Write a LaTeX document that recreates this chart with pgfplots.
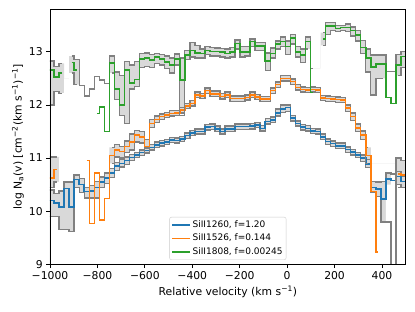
\documentclass[border=0pt]{standalone}
\usepackage{pgfplots}
\pgfplotsset{compat=1.18}
\usepackage{pgfplotstable}
\usepackage{fontspec}
\setmainfont{DejaVu Sans}
\definecolor{tabblue}{HTML}{1F77B4}
\definecolor{taborange}{HTML}{FF7F0E}
\definecolor{tabgreen}{HTML}{2CA02C}
\definecolor{edgegray}{HTML}{808080}
\definecolor{bandfill}{RGB}{217,217,217}
\definecolor{legframe}{HTML}{CCCCCC}
\begin{document}
\pgfplotstableread{
v c lo hi flo fhi
-1014.6 10.20 9.90 10.40 9.90 10.40
-993.4 10.20 9.90 10.40 9.90 10.40
-972.2 10.15 9.90 10.33 9.90 10.33
-951.0 10.08 9.65 10.38 9.65 10.38
-929.8 10.43 9.65 10.55 9.65 10.55
-908.6 10.08 9.62 10.55 9.62 10.55
-887.4 10.60 10.45 10.68 10.45 10.68
-866.2 10.50 10.35 10.62 10.35 10.62
-845.0 10.37 10.25 10.45 10.25 10.45
-823.8 10.38 10.25 10.48 10.25 10.48
-802.6 10.45 10.25 10.56 10.25 10.56
-781.4 10.55 10.45 10.64 10.45 10.64
-760.2 10.62 10.52 10.72 10.52 10.72
-739.0 10.72 10.63 10.80 10.63 10.80
-717.8 10.85 10.77 10.92 10.77 10.92
-696.6 10.90 10.83 10.97 10.83 10.97
-675.4 10.95 10.88 11.02 10.88 11.02
-654.2 11.01 10.95 11.07 10.95 11.07
-633.0 11.06 11.01 11.11 11.01 11.11
-611.8 11.10 11.05 11.15 11.05 11.15
-590.6 11.14 11.09 11.19 11.09 11.19
-569.4 11.20 11.15 11.25 11.15 11.25
-548.2 11.25 11.20 11.30 11.20 11.30
-527.0 11.28 11.23 11.33 11.23 11.33
-505.8 11.30 11.25 11.35 11.25 11.35
-484.6 11.34 11.29 11.39 11.29 11.39
-463.4 11.33 11.28 11.38 11.28 11.38
-442.2 11.36 11.31 11.41 11.31 11.41
-421.0 11.42 11.37 11.47 11.37 11.47
-399.8 11.47 11.42 11.52 11.42 11.52
-378.6 11.50 11.45 11.55 11.45 11.55
-357.4 11.50 11.45 11.55 11.45 11.55
-336.2 11.58 11.53 11.63 11.53 11.63
-315.0 11.59 11.54 11.64 11.54 11.64
-293.8 11.55 11.50 11.60 11.50 11.60
-272.6 11.50 11.45 11.55 11.45 11.55
-251.4 11.55 11.50 11.60 11.50 11.60
-230.2 11.55 11.50 11.60 11.50 11.60
-209.0 11.59 11.54 11.64 11.54 11.64
-187.8 11.59 11.54 11.64 11.54 11.64
-166.6 11.59 11.54 11.64 11.54 11.64
-145.4 11.60 11.55 11.65 11.55 11.65
-124.2 11.62 11.57 11.67 11.57 11.67
-103.0 11.56 11.51 11.61 11.51 11.61
-81.8 11.69 11.64 11.74 11.64 11.74
-60.6 11.72 11.67 11.77 11.67 11.77
-39.4 11.85 11.79 11.92 11.79 11.92
-18.2 11.92 11.86 12.00 11.86 12.00
3.0 11.95 11.88 12.00 11.88 12.00
24.2 11.75 11.70 11.80 11.70 11.80
45.4 11.65 11.60 11.70 11.60 11.70
66.6 11.58 11.53 11.63 11.53 11.63
87.8 11.56 11.51 11.61 11.51 11.61
109.0 11.51 11.46 11.56 11.46 11.56
130.2 11.50 11.45 11.55 11.45 11.55
151.4 11.40 11.35 11.45 11.35 11.45
172.6 11.31 11.26 11.36 11.26 11.36
193.8 11.27 11.22 11.32 11.22 11.32
215.0 11.23 11.18 11.28 11.18 11.28
236.2 11.23 11.18 11.28 11.18 11.28
257.4 11.16 11.11 11.21 11.11 11.21
278.6 11.11 11.06 11.16 11.06 11.16
299.8 11.06 11.01 11.11 11.01 11.11
321.0 11.00 10.94 11.06 10.94 11.06
342.2 10.89 10.82 10.97 10.82 10.97
363.4 10.45 10.35 10.56 10.35 10.56
384.6 10.42 10.28 10.55 10.28 10.55
405.8 10.23 9.80 10.56 9.80 10.56
427.0 10.61 9.80 10.72 10.50 10.72
448.2 10.58 8.00 10.70 10.58 10.58
469.4 10.65 10.50 10.75 10.50 10.75
490.6 10.56 10.45 10.66 10.45 10.66
511.8 10.56 10.45 10.66 10.45 10.66
}\bluetab
\pgfplotstableread{
v c lo hi flo fhi
-1014.6 10.62 10.45 11.02 10.45 11.02
-993.4 10.62 10.45 11.02 10.45 11.02
-972.2 10.78 10.55 11.02 10.55 11.02
-951.0 nan nan nan 11.0 11.0
-929.8 nan nan nan 11.0 11.0
-908.6 nan nan nan 11.0 11.0
-887.4 nan nan nan 11.0 11.0
-866.2 nan nan nan 11.0 11.0
-845.0 10.95 nan 11.15 11.0 11.0
-823.8 9.77 nan nan 11.0 11.0
-802.6 10.72 nan nan 11.0 11.0
-781.4 9.83 nan nan 11.0 11.0
-760.2 10.24 nan nan 11.0 11.0
-739.0 11.05 10.90 11.20 10.90 11.20
-717.8 11.15 11.02 11.25 11.02 11.25
-696.6 11.12 11.00 11.22 11.00 11.22
-675.4 11.22 11.10 11.32 11.10 11.32
-654.2 11.30 11.15 11.45 11.15 11.45
-633.0 11.43 11.30 11.52 11.30 11.52
-611.8 11.40 11.28 11.50 11.28 11.50
-590.6 11.22 11.10 11.35 11.10 11.35
-569.4 11.65 11.58 11.72 11.58 11.72
-548.2 11.73 11.67 11.79 11.67 11.79
-527.0 11.78 11.73 11.83 11.73 11.83
-505.8 11.81 11.76 11.86 11.76 11.86
-484.6 11.84 11.79 11.89 11.79 11.89
-463.4 11.85 11.80 11.90 11.80 11.90
-442.2 11.90 11.85 11.95 11.85 11.95
-421.0 11.98 11.93 12.03 11.93 12.03
-399.8 12.03 11.98 12.08 11.98 12.08
-378.6 12.19 12.14 12.24 12.14 12.24
-357.4 12.17 12.12 12.22 12.12 12.22
-336.2 12.27 12.22 12.32 12.22 12.32
-315.0 12.21 12.16 12.26 12.16 12.26
-293.8 12.21 12.16 12.26 12.16 12.26
-272.6 12.16 12.11 12.21 12.11 12.21
-251.4 12.19 12.14 12.24 12.14 12.24
-230.2 12.12 12.07 12.17 12.07 12.17
-209.0 12.12 12.07 12.17 12.07 12.17
-187.8 12.12 12.07 12.17 12.07 12.17
-166.6 12.14 12.09 12.19 12.09 12.19
-145.4 12.19 12.14 12.24 12.14 12.24
-124.2 12.15 12.10 12.20 12.10 12.20
-103.0 12.11 12.06 12.16 12.06 12.16
-81.8 12.11 12.06 12.16 12.06 12.16
-60.6 12.27 12.22 12.32 12.22 12.32
-39.4 12.38 12.33 12.43 12.33 12.43
-18.2 12.50 12.45 12.55 12.45 12.55
3.0 12.50 12.45 12.55 12.45 12.55
24.2 12.44 12.39 12.49 12.39 12.49
45.4 12.33 12.28 12.38 12.28 12.38
66.6 12.29 12.24 12.34 12.24 12.34
87.8 12.28 12.23 12.33 12.23 12.33
109.0 12.29 12.24 12.34 12.24 12.34
130.2 12.28 12.23 12.33 12.23 12.33
151.4 12.13 12.08 12.18 12.08 12.18
172.6 12.12 12.07 12.17 12.07 12.17
193.8 12.11 12.06 12.16 12.06 12.16
215.0 12.10 12.05 12.15 12.05 12.15
236.2 12.09 12.04 12.14 12.04 12.14
257.4 11.94 11.88 12.00 11.88 12.00
278.6 11.78 11.71 11.85 11.71 11.85
299.8 11.57 11.50 11.64 11.50 11.64
321.0 11.43 11.35 11.51 11.35 11.51
342.2 11.05 10.90 11.20 10.90 11.20
363.4 10.37 nan nan 10.9 10.9
384.6 9.23 nan nan 10.9 10.9
405.8 nan nan nan 10.9 10.9
427.0 nan nan nan 10.9 10.9
448.2 nan nan 8.00 10.9 10.9
469.4 10.70 10.45 11.00 10.45 11.00
490.6 10.68 10.45 10.95 10.45 10.95
511.8 10.68 10.45 10.95 10.45 10.95
}\orangetab
\pgfplotstableread{
v c lo hi flo fhi
-1014.6 12.66 12.00 12.83 12.00 12.83
-993.4 12.66 12.00 12.83 12.00 12.83
-972.2 12.53 12.25 12.72 12.25 12.72
-951.0 12.60 12.22 12.78 12.22 12.78
-929.8 nan nan nan 12.5 12.5
-908.6 12.80 12.60 12.92 12.60 12.92
-887.4 12.66 12.38 12.86 12.38 12.86
-866.2 nan nan 12.36 12.36 12.36
-845.0 nan nan 12.17 12.17 12.17
-823.8 nan nan 12.30 12.30 12.30
-802.6 11.84 nan 12.53 12.53 12.53
-781.4 11.96 nan 12.47 12.47 12.47
-760.2 11.50 nan 12.40 12.40 12.40
-739.0 12.79 12.60 12.92 12.60 12.92
-717.8 12.30 12.10 12.62 12.10 12.62
-696.6 12.00 11.80 12.55 11.80 12.55
-675.4 12.66 11.65 12.82 11.65 12.82
-654.2 12.41 12.30 12.75 12.30 12.75
-633.0 12.48 12.35 12.82 12.35 12.82
-611.8 12.86 12.70 12.97 12.70 12.97
-590.6 12.88 12.72 12.98 12.72 12.98
-569.4 12.85 12.70 12.95 12.70 12.95
-548.2 12.90 12.78 12.97 12.78 12.97
-527.0 12.86 12.75 12.95 12.75 12.95
-505.8 12.81 12.68 12.92 12.68 12.92
-484.6 12.75 12.60 12.88 12.60 12.88
-463.4 12.86 12.75 12.96 12.75 12.96
-442.2 12.47 11.80 12.88 11.80 12.88
-421.0 12.94 12.85 13.02 12.85 13.02
-399.8 13.02 12.90 13.18 12.90 13.18
-378.6 12.98 12.88 13.12 12.88 13.12
-357.4 12.97 12.88 13.05 12.88 13.05
-336.2 13.02 12.95 13.10 12.95 13.10
-315.0 13.01 12.92 13.08 12.92 13.08
-293.8 13.01 12.92 13.07 12.92 13.07
-272.6 13.00 12.90 13.06 12.90 13.06
-251.4 12.97 12.88 13.05 12.88 13.05
-230.2 13.00 12.90 13.08 12.90 13.08
-209.0 13.16 13.05 13.22 13.05 13.22
-187.8 13.00 12.90 13.10 12.90 13.10
-166.6 13.00 12.92 13.10 12.92 13.10
-145.4 13.19 13.10 13.24 13.10 13.24
-124.2 13.11 13.03 13.17 13.03 13.17
-103.0 13.11 13.03 13.17 13.03 13.17
-81.8 12.83 12.65 12.98 12.65 12.98
-60.6 12.97 12.88 13.07 12.88 13.07
-39.4 13.15 13.05 13.20 13.05 13.20
-18.2 13.19 13.10 13.28 13.10 13.28
3.0 13.10 12.95 13.20 12.95 13.20
24.2 13.26 13.15 13.32 13.15 13.32
45.4 13.00 12.90 13.10 12.90 13.10
66.6 12.94 12.80 13.05 12.80 13.05
87.8 13.19 13.05 13.28 13.05 13.28
109.0 12.23 nan 12.69 12.69 12.69
130.2 nan nan nan 12.69 12.69
151.4 13.24 13.12 13.36 13.12 13.36
172.6 13.49 13.32 13.55 13.32 13.55
193.8 13.49 13.40 13.55 13.40 13.55
215.0 13.44 13.38 13.50 13.38 13.50
236.2 13.46 13.40 13.50 13.40 13.50
257.4 13.46 13.38 13.52 13.38 13.52
278.6 13.40 13.30 13.47 13.30 13.47
299.8 13.32 13.20 13.40 13.20 13.40
321.0 13.08 12.97 13.21 12.97 13.21
342.2 12.88 12.62 13.05 12.62 13.05
363.4 12.71 12.19 12.94 12.19 12.94
384.6 12.77 12.50 12.94 12.50 12.94
405.8 12.77 12.50 12.94 12.50 12.94
427.0 12.14 nan 12.63 12.63 12.63
448.2 12.03 nan 12.63 12.63 12.63
469.4 12.75 12.55 12.95 12.55 12.95
490.6 12.91 12.70 13.00 12.70 13.00
511.8 12.91 12.70 13.00 12.70 13.00
}\greentab
\begin{tikzpicture}
\begin{axis}[
  at={(0pt,0pt)}, anchor=south west,
  scale only axis, width=355.7pt, height=255pt,
  xmin=-1000, xmax=500, ymin=9, ymax=13.8,
  axis on top,
  xtick={-1000,-800,-600,-400,-200,0,200,400},
  xticklabels={−1000,−800,−600,−400,−200,0,200,400},
  ytick={9,10,11,12,13},
  /pgf/number format/assume math mode=true,
  tick align=outside, tick pos=left,
  major tick length=3.8pt,
  every tick/.style={black, line width=0.8pt},
  axis line style={line width=0.8pt},
  ticklabel style={font=\fontsize{10.8}{13}\selectfont},
  label style={font=\fontsize{10.8}{13}\selectfont},
  xlabel={Relative velocity (km s\textsuperscript{−1})},
  ylabel={log N\textsubscript{a}(v) [cm\textsuperscript{−2}(km s\textsuperscript{−1})\textsuperscript{−1}]},
  xlabel style={at={(axis description cs:0.5,-0.1075)}, anchor=center},
  ylabel style={at={(axis description cs:-0.09,0.5)}, anchor=center},
  unbounded coords=jump,
  legend cell align=left,
  legend image code/.code={\draw[#1] (0pt,0pt) -- (18pt,0pt);},
  legend style={at={(axis description cs:0.5,0.017)}, anchor=south,
    draw=legframe, rounded corners=2pt, fill=white,
    font=\fontsize{9}{11}\selectfont, inner sep=2pt, row sep=1.6pt,
    nodes={inner sep=1.5pt, text height=6.8pt, text depth=2pt}},
  mystep/.style={const plot mark mid},
  myband/.style={fill=bandfill, draw=none, const plot mark mid},
  mywhite/.style={fill=white, draw=none, const plot mark mid},
  myedge/.style={edgegray, line width=1.4pt, const plot mark mid},
]
% bands (upper limit filled down, then blanked below lower limit)
\addplot[myband, forget plot] table[x=v,y=fhi]{\greentab} \closedcycle;
\addplot[mywhite, forget plot] table[x=v,y=flo]{\greentab} \closedcycle;
\addplot[myband, forget plot] table[x=v,y=fhi]{\orangetab} \closedcycle;
\addplot[mywhite, forget plot] table[x=v,y=flo]{\orangetab} \closedcycle;
\addplot[myband, forget plot] table[x=v,y=fhi]{\bluetab} \closedcycle;
\addplot[mywhite, forget plot] table[x=v,y=flo]{\bluetab} \closedcycle;
% blue
\addplot[myedge, forget plot] table[x=v,y=lo]{\bluetab};
\addplot[myedge, forget plot] table[x=v,y=hi]{\bluetab};
\addplot[tabblue, line width=1.5pt, mystep] table[x=v,y=c]{\bluetab};
\addlegendentry{SiII1260, f=1.20}
% orange
\addplot[myedge, forget plot] table[x=v,y=lo]{\orangetab};
\addplot[myedge, forget plot] table[x=v,y=hi]{\orangetab};
\addplot[taborange, line width=1.5pt, mystep] table[x=v,y=c]{\orangetab};
\addlegendentry{SiII1526, f=0.144}
% green
\addplot[myedge, forget plot] table[x=v,y=lo]{\greentab};
\addplot[myedge, forget plot] table[x=v,y=hi]{\greentab};
\addplot[tabgreen, line width=1.5pt, mystep] table[x=v,y=c]{\greentab};
\addlegendentry{SiII1808, f=0.00245}
\end{axis}
\pgfresetboundingbox
\useasboundingbox (-50pt,-46.7pt) rectangle (365.0pt,264.3pt);
\end{tikzpicture}
\end{document}
